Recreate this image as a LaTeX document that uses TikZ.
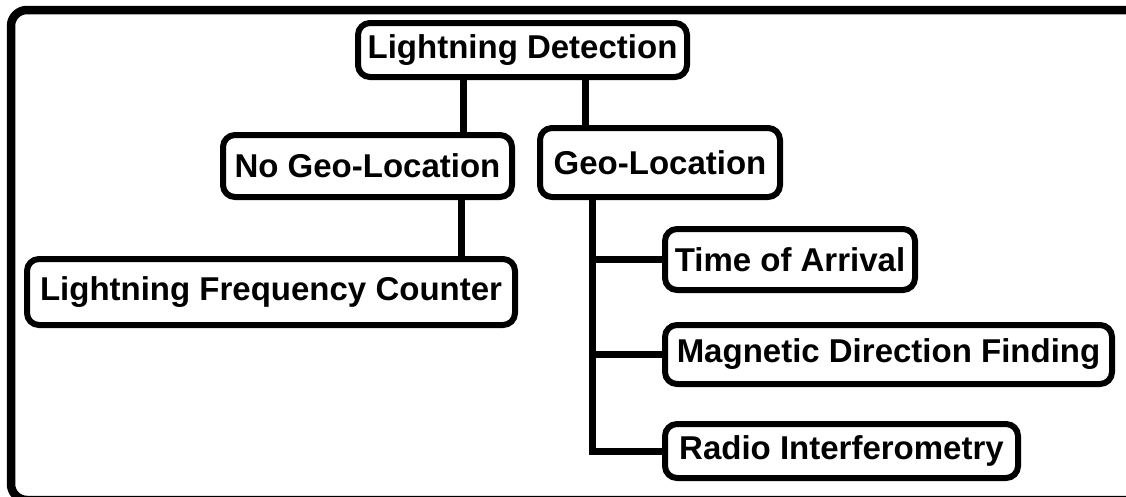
\documentclass[tikz,border=0pt]{standalone}
\usepackage{fontspec}
\setmainfont{Liberation Sans}
\begin{document}
\begin{tikzpicture}[x=1pt,y=-1pt,
  box/.style={draw=black, line width=6pt, rounded corners=12pt, fill=white,
    inner sep=0pt, font=\fontsize{33}{37}\selectfont\bfseries, text=black},
  link/.style={draw=black, line width=7pt}]
\useasboundingbox (0,0) rectangle (1126,496);
\fill[white] (0,0) rectangle (1126,496);
\coordinate (fr) at (1139,0);
\draw[line width=8.5pt, rounded corners=16pt] (fr |- 0,10) -- (11,10) -- (11,500) -- (1160,500);
\draw[line width=8.5pt] (1121,10) -- (1130,10);
\coordinate (c1) at (463,0);
\coordinate (c2) at (585,0);
\coordinate (c3) at (461,0);
\coordinate (trunk) at (592,0);
\node[box, minimum width=329pt, minimum height=54pt] (LD) at (522.5,50) {Lightning Detection};
\node[box, minimum width=289pt, minimum height=62pt] (NGL) at (367.5,166) {No Geo-Location};
\node[box, minimum width=240pt, minimum height=69pt] (GL) at (660,162.5) {Geo-Location};
\node[box, minimum width=488pt, minimum height=66pt] (LFC) at (271,292) {Lightning Frequency Counter};
\node[box, minimum width=250pt, minimum height=61pt] (TOA) at (790,259.5) {Time of Arrival};
\node[box, minimum width=447pt, minimum height=59pt] (MDF) at (888.5,354.5) {Magnetic Direction Finding};
\node[box, minimum width=353pt, minimum height=54pt] (RI) at (841.5,451) {Radio Interferometry};
\draw[link] (LD.south -| c1) -- (NGL.north -| c1);
\draw[link] (LD.south -| c2) -- (GL.north -| c2);
\draw[link] (NGL.south -| c3) -- (LFC.north -| c3);
\draw[link] (GL.south -| trunk) |- (RI.west);
\draw[link] (trunk |- TOA.west) -- (TOA.west);
\draw[link] (trunk |- MDF.west) -- (MDF.west);
\end{tikzpicture}
\end{document}
